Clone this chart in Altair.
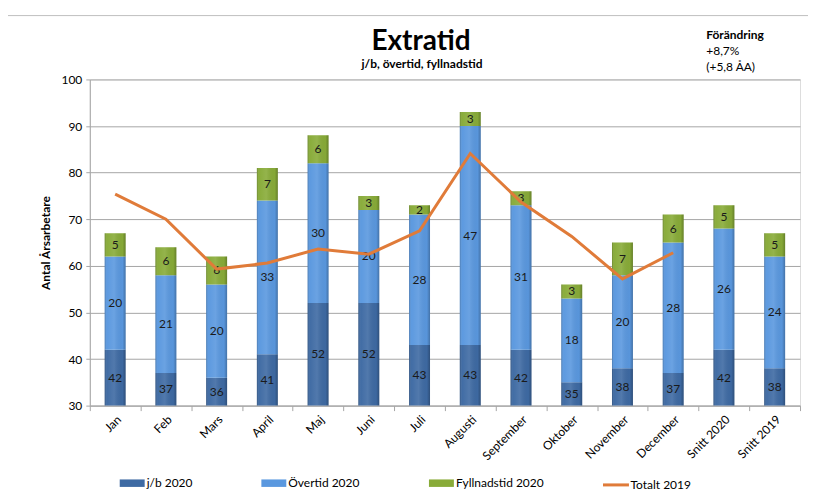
import altair as alt
import pandas as pd

# ---- data ----
categories = ["Jan", "Feb", "Mars", "April", "Maj", "Juni", "Juli", "Augusti",
              "September", "Oktober", "November", "December", "Snitt 2020", "Snitt 2019"]
jb_2020 = [42, 37, 36, 41, 52, 52, 43, 43, 42, 35, 38, 37, 42, 38]
overtid_2020 = [20, 21, 20, 33, 30, 20, 28, 47, 31, 18, 20, 28, 26, 24]
fyllnad_2020 = [5, 6, 6, 7, 6, 3, 2, 3, 3, 3, 7, 6, 5, 5]
months_2019 = categories[:12]
totalt_2019 = [75.4, 70.0, 59.3, 60.6, 63.6, 62.5, 67.5, 84.1, 73.7, 66.3, 57.2, 62.8]
bar_series = ["j/b 2020", "Övertid 2020", "Fyllnadstid 2020"]
line_series = ["Totalt 2019"]
bar_colors = ["#3E6AA3", "#5A98DF", "#88AB38"]
line_color = "#E07B39"
y_min, y_max = 30, 100
y_ticks = [30, 40, 50, 60, 70, 80, 90, 100]

FONT = "Lato"

rows = []
for i, c in enumerate(categories):
    start = 0
    for k, (s, vals) in enumerate(zip(bar_series, [jb_2020, overtid_2020, fyllnad_2020])):
        v = vals[i]
        end = start + v
        lo = max(start, y_min)
        rows.append(dict(cat=c, serie=s, k=k, start=start, end=end, v=v, mid=(lo + end) / 2))
        start = end
bars_df = pd.DataFrame(rows)
line_df = pd.DataFrame({"cat": months_2019, "tot": totalt_2019, "linje": line_series * 12})

W, H = 712, 327

x_enc = alt.X("cat:N", sort=categories, title=None,
              scale=alt.Scale(paddingInner=0, paddingOuter=0),
              axis=alt.Axis(labelAngle=-45, labelFontSize=12, labelColor="#000000",
                            labelFont=FONT, domainColor="#A6A6A6", tickColor="#A6A6A6",
                            tickSize=5, tickBand="extent", labelPadding=3, grid=False))
y_scale = alt.Scale(domain=[y_min, y_max], nice=False, zero=False)
y_enc = alt.Y("start:Q", scale=y_scale, title="Antal Årsarbetare",
              axis=alt.Axis(values=y_ticks, labelFontSize=12, labelColor="#000000",
                            labelFont=FONT, titleFont=FONT, titleFontSize=12,
                            titleFontWeight="bold", titleColor="#000000", titlePadding=9,
                            domainColor="#A6A6A6", tickColor="#A6A6A6", tickSize=4,
                            gridColor="#A6A6A6", gridWidth=1, labelPadding=4))

base = alt.Chart(bars_df)

bars = base.mark_bar(size=21, clip=True).encode(
    x=x_enc,
    y=y_enc,
    y2="end:Q",
    color=alt.Color("serie:N", scale=alt.Scale(domain=bar_series, range=bar_colors),
                    legend=alt.Legend(orient="none", legendX=30, legendY=392,
                                      direction="horizontal", title=None,
                                      symbolType="M-1,-0.3H1V0.3H-1Z", symbolSize=625,
                                      symbolStrokeWidth=0, labelFontSize=12, labelFont=FONT,
                                      labelColor="#000000", labelOffset=2, columnPadding=69,
                                      labelBaseline="middle")),
    order="k:Q",
)

shade = base.mark_bar(size=21, clip=True, color=alt.Gradient(
    gradient="linear", x1=0, x2=1, y1=0, y2=0,
    stops=[alt.GradientStop(offset=0, color="rgba(0,0,0,0.22)"),
           alt.GradientStop(offset=0.12, color="rgba(255,255,255,0.02)"),
           alt.GradientStop(offset=0.45, color="rgba(255,255,255,0.10)"),
           alt.GradientStop(offset=0.85, color="rgba(0,0,0,0.02)"),
           alt.GradientStop(offset=1, color="rgba(0,0,0,0.25)")])).encode(
    x=alt.X("cat:N", sort=categories),
    y=alt.Y("start:Q", scale=y_scale),
    y2="end:Q",
)

labels = base.mark_text(fontSize=12, font=FONT, color="#1A1A1A", baseline="middle").encode(
    x=alt.X("cat:N", sort=categories),
    y=alt.Y("mid:Q", scale=y_scale),
    text="v:Q",
)

line = alt.Chart(line_df).mark_line(strokeWidth=3).encode(
    x=alt.X("cat:N", sort=categories),
    y=alt.Y("tot:Q", scale=y_scale),
    stroke=alt.Stroke("linje:N", scale=alt.Scale(domain=line_series, range=[line_color]),
                      legend=alt.Legend(orient="none", legendX=513, legendY=392, title=None,
                                        symbolType="stroke", symbolSize=676,
                                        symbolStrokeWidth=3, labelFontSize=12, labelFont=FONT,
                                        labelColor="#000000", labelOffset=0,
                                        labelBaseline="middle")),
)

def txt(s, x, y, size, bold, align):
    return alt.Chart(pd.DataFrame({"t": [s]})).mark_text(
        fontSize=size, font=FONT, fontWeight="bold" if bold else "normal",
        align=align, baseline="alphabetic", color="#000000").encode(
        text="t:N", x=alt.value(x), y=alt.value(y))

title = txt("Extratid", 332, -30, 28, True, "center")
subtitle = txt("j/b, övertid, fyllnadstid", 333, -11, 12, True, "center")
ch1 = txt("Förändring", 618, -41, 12, True, "left")
ch2 = txt("+8,7%", 618, -24, 12, False, "left")
ch3 = txt("(+5,8 ÅA)", 618, -8, 12, False, "left")

border = alt.Chart(pd.DataFrame({"t": [0]})).mark_rect(
    fill="transparent", stroke="#BFBFBF", strokeWidth=1).encode(
    x=alt.value(-83), x2=alt.value(740), y=alt.value(-64), y2=alt.value(440))

chart = alt.layer(border, bars, shade, labels, line, title, subtitle, ch1, ch2, ch3).resolve_scale(
    color="independent").properties(
    width=W, height=H,
    padding={"left": 82, "top": 71, "right": 8, "bottom": 92},
    autosize=alt.AutoSizeParams(type="none"),
).configure_view(stroke=None).configure(font=FONT)

chart.save("out.html", embed_options={"renderer": "svg", "actions": False})
